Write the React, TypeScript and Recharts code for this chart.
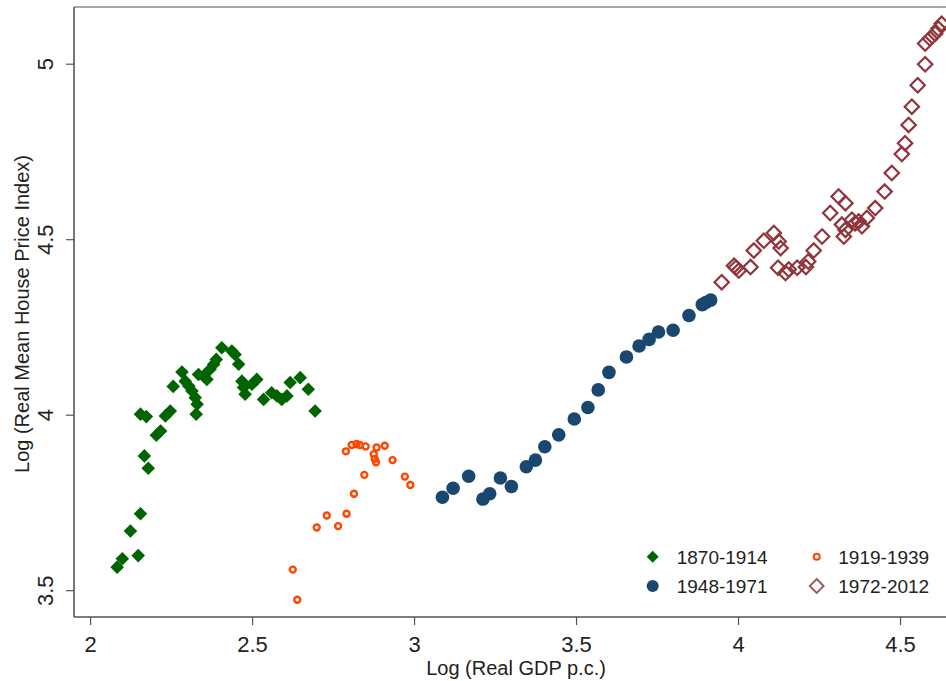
import React from 'react';
import { ScatterChart, Scatter, XAxis, YAxis, ReferenceLine, Legend } from 'recharts';

// 1870-1914
const gdp1870 = [2.082, 2.098, 2.123, 2.147, 2.154, 2.166, 2.178, 2.154, 2.172, 2.203, 2.216, 2.231, 2.246, 2.255, 2.282, 2.292, 2.303, 2.313, 2.323, 2.329, 2.326, 2.333, 2.349, 2.359, 2.369, 2.380, 2.388, 2.405, 2.436, 2.446, 2.457, 2.467, 2.472, 2.477, 2.498, 2.513, 2.534, 2.559, 2.575, 2.590, 2.606, 2.616, 2.647, 2.672, 2.693];
const hpi1870 = [3.567, 3.591, 3.670, 3.600, 3.719, 3.884, 3.849, 4.003, 3.996, 3.943, 3.955, 3.998, 4.012, 4.082, 4.123, 4.097, 4.083, 4.069, 4.050, 4.031, 4.003, 4.116, 4.112, 4.102, 4.131, 4.145, 4.159, 4.192, 4.183, 4.173, 4.145, 4.097, 4.079, 4.060, 4.088, 4.102, 4.045, 4.064, 4.055, 4.045, 4.055, 4.093, 4.107, 4.074, 4.012];

// 1919-1939
const gdp1919 = [2.624, 2.638, 2.698, 2.729, 2.764, 2.790, 2.813, 2.845, 2.788, 2.806, 2.821, 2.831, 2.849, 2.883, 2.908, 2.874, 2.877, 2.881, 2.932, 2.970, 2.987];
const hpi1919 = [3.560, 3.474, 3.680, 3.714, 3.684, 3.719, 3.776, 3.830, 3.897, 3.915, 3.918, 3.915, 3.911, 3.908, 3.913, 3.889, 3.875, 3.866, 3.872, 3.825, 3.801];

// 1948-1971
const gdp1948 = [3.086, 3.119, 3.167, 3.211, 3.232, 3.265, 3.299, 3.345, 3.373, 3.402, 3.445, 3.493, 3.535, 3.567, 3.600, 3.654, 3.693, 3.724, 3.753, 3.798, 3.847, 3.888, 3.899, 3.914];
const hpi1948 = [3.766, 3.792, 3.826, 3.761, 3.776, 3.821, 3.797, 3.853, 3.872, 3.910, 3.944, 3.989, 4.022, 4.072, 4.122, 4.166, 4.197, 4.216, 4.237, 4.242, 4.284, 4.315, 4.321, 4.328];

// 1972-2012
const gdp1972 = [3.948, 3.986, 3.992, 4.001, 4.037, 4.047, 4.078, 4.109, 4.124, 4.130, 4.122, 4.145, 4.155, 4.181, 4.208, 4.215, 4.232, 4.258, 4.283, 4.309, 4.330, 4.319, 4.330, 4.325, 4.350, 4.360, 4.371, 4.381, 4.396, 4.422, 4.451, 4.473, 4.504, 4.514, 4.525, 4.535, 4.553, 4.576, 4.576, 4.591, 4.607, 4.617, 4.627];
const hpi1972 = [4.379, 4.426, 4.420, 4.412, 4.422, 4.469, 4.497, 4.519, 4.495, 4.476, 4.420, 4.405, 4.415, 4.420, 4.422, 4.438, 4.469, 4.509, 4.576, 4.623, 4.604, 4.543, 4.528, 4.509, 4.557, 4.547, 4.552, 4.538, 4.562, 4.590, 4.637, 4.690, 4.744, 4.775, 4.827, 4.879, 4.940, 5.000, 5.059, 5.073, 5.087, 5.101, 5.115];

const xTicks = [2, 2.5, 3, 3.5, 4, 4.5];
const yTicks = [3.5, 4, 4.5, 5];
const xDomain = [1.9488, 4.6404];
const yDomain = [3.425, 5.163];
const seriesNames = ['1870-1914', '1919-1939', '1948-1971', '1972-2012'];

const zip = (xs: number[], ys: number[]) => xs.map((x, i) => ({ x, y: ys[i] }));
const data1870 = zip(gdp1870, hpi1870);
const data1919 = zip(gdp1919, hpi1919);
const data1948 = zip(gdp1948, hpi1948);
const data1972 = zip(gdp1972, hpi1972);

const GREEN = '#006400';
const ORANGE = '#ff4500';
const BLUE = '#1a476f';
const RED = '#90353b';
const FONT = '"Liberation Sans", Arial, sans-serif';

const diamondPts = (cx: number, cy: number, r: number) =>
  `${cx},${cy - r} ${cx + r},${cy} ${cx},${cy + r} ${cx - r},${cy}`;

const GreenDiamond = (p: any) => <polygon points={diamondPts(p.cx, p.cy, 6.8)} fill={GREEN} />;
const OrangeRing = (p: any) => <circle cx={p.cx} cy={p.cy} r={3} fill="none" stroke={ORANGE} strokeWidth={2.4} />;
const BlueDot = (p: any) => <circle cx={p.cx} cy={p.cy} r={6.8} fill={BLUE} />;
const RedDiamond = (p: any) => <polygon points={diamondPts(p.cx, p.cy, 7.2)} fill="none" stroke={RED} strokeWidth={2.2} />;

const XTick = (p: any) => (
  <text x={p.x} y={p.y + 25} textAnchor="middle" fontSize={22} fontFamily={FONT} fill="#222">
    {p.payload.value}
  </text>
);

const YTick = (p: any) => (
  <g transform={`translate(45,${p.y}) rotate(-90)`}>
    <text x={0} y={8} textAnchor="middle" fontSize={22} fontFamily={FONT} fill="#222">
      {p.payload.value}
    </text>
  </g>
);

const XLabel = (p: any) => {
  const vb = p.viewBox || { x: 74, y: 617, width: 872 };
  return (
    <text x={vb.x + vb.width / 2 + 6} y={vb.y + 58} textAnchor="middle" fontSize={20} fontFamily={FONT} fill="#222">
      Log (Real GDP p.c.)
    </text>
  );
};

const YLabel = (p: any) => {
  const vb = p.viewBox || { x: 0, y: 7, height: 610 };
  return (
    <g transform={`translate(${vb.x + 22},${vb.y + vb.height / 2 + 2}) rotate(-90)`}>
      <text x={0} y={7} textAnchor="middle" fontSize={20} fontFamily={FONT} fill="#222">
        Log (Real Mean House Price Index)
      </text>
    </g>
  );
};

const renderLegend = () => (
  <svg width={326} height={70} style={{ display: 'block', overflow: 'visible' }}>
    <polygon points={diamondPts(32.7, 16.7, 6)} fill={GREEN} />
    <text x={56.7} y={23.5} fontSize={19} fontFamily={FONT} fill="#222">{seriesNames[0]}</text>
    <circle cx={196.7} cy={16.7} r={3} fill="none" stroke={ORANGE} strokeWidth={2} />
    <text x={218.3} y={23.5} fontSize={19} fontFamily={FONT} fill="#222">{seriesNames[1]}</text>
    <circle cx={32.7} cy={46} r={6} fill={BLUE} />
    <text x={56.7} y={52.5} fontSize={19} fontFamily={FONT} fill="#222">{seriesNames[2]}</text>
    <polygon points={diamondPts(196.7, 46, 7)} fill="none" stroke="#a0525a" strokeWidth={1.8} />
    <text x={218.3} y={52.5} fontSize={19} fontFamily={FONT} fill="#222">{seriesNames[3]}</text>
  </svg>
);

export default function App() {
  return (
    <div style={{ position: 'absolute', left: 0, top: 0, width: 946, height: 681, background: '#fff' }}>
      <ScatterChart width={946} height={681} margin={{ top: 7, right: 0, bottom: 0, left: 0 }}>
        <XAxis
          type="number"
          dataKey="x"
          domain={xDomain}
          ticks={xTicks}
          allowDataOverflow
          height={64}
          tickSize={8}
          tick={<XTick />}
          axisLine={{ stroke: '#555', strokeWidth: 1.6 }}
          tickLine={{ stroke: '#555', strokeWidth: 1.2 }}
          label={<XLabel />}
        />
        <YAxis
          type="number"
          dataKey="y"
          domain={yDomain}
          ticks={yTicks}
          allowDataOverflow
          width={74}
          tickSize={8}
          tick={<YTick />}
          axisLine={{ stroke: '#555', strokeWidth: 1.6 }}
          tickLine={{ stroke: '#555', strokeWidth: 1.2 }}
          label={<YLabel />}
        />
        <ReferenceLine y={yDomain[1]} stroke="#8a8a8a" strokeWidth={1.6} />
        <Scatter name={seriesNames[0]} data={data1870} shape={<GreenDiamond />} fill={GREEN} isAnimationActive={false} />
        <Scatter name={seriesNames[1]} data={data1919} shape={<OrangeRing />} fill={ORANGE} isAnimationActive={false} />
        <Scatter name={seriesNames[2]} data={data1948} shape={<BlueDot />} fill={BLUE} isAnimationActive={false} />
        <Scatter name={seriesNames[3]} data={data1972} shape={<RedDiamond />} fill={RED} isAnimationActive={false} />
        <Legend
          content={renderLegend}
          layout="horizontal"
          verticalAlign="middle"
          align="center"
          wrapperStyle={{ position: 'absolute', left: 620, top: 540, width: 326, height: 70 }}
        />
      </ScatterChart>
    </div>
  );
}
